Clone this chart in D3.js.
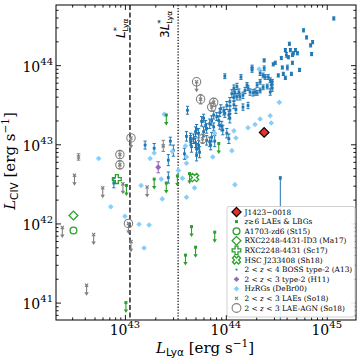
<!DOCTYPE html>
<html>
<head>
<meta charset="utf-8">
<script src="https://cdn.jsdelivr.net/npm/d3@7"></script>
<style>
body { margin: 0; background: #fff; }
text { font-family: "DejaVu Serif", serif; fill: #000; }
</style>
</head>
<body>
<svg id="canvas" width="357" height="359"></svg>
<script>
// all luminosities are log10 [erg s^-1]
let bossLya = [45.07,44.77,44.80,44.86,44.84,44.63,44.59,44.64,44.69,44.67,44.71,44.60,44.62,44.66,44.85,44.55,44.66,44.61,44.56,44.49,44.47,44.38,44.73,44.38,44.37,44.26,44.26,44.52,44.57,44.59,44.65,44.34,44.39,44.42,44.44,44.46,44.45,44.46,44.44,44.31,44.29,44.31,44.27,44.34,44.37,44.41,44.34,
    43.99,44.15,44.08,44.11,44.13,44.09,44.06,44.08,44.11,44.14,44.17,44.19,44.22,44.21,44.24,
    44.04,44.08,44.01,44.10,44.17,44.22,43.95,43.98,43.94,43.99,44.04,44.03,44.04,43.88,43.91,43.93,43.86,43.84,43.81,43.88,43.94,43.97,43.78,43.76,43.80,
    43.62,43.61,43.65,43.68,43.70,43.86,43.89,44.01,44.03,43.59,43.48,43.65,43.66,43.71,43.74,43.71,43.84,43.85,43.81,43.20,43.29,43.45,43.43,43.73,43.43,42.89,
    43.71,43.70,43.73,43.78,43.96]
let bossCiv = [44.59,44.44,44.35,44.29,44.25,44.27,44.19,44.19,44.19,44.15,44.15,44.13,44.10,44.13,44.14,44.09,44.03,43.97,43.97,44.03,44.01,44.06,43.94,43.96,43.87,43.97,43.94,43.87,43.89,43.84,43.89,43.90,43.85,43.85,43.81,43.79,43.75,43.71,43.66,43.75,43.66,43.65,43.65,43.68,43.72,43.73,43.79,
    43.86,43.85,43.71,43.73,43.66,43.65,43.64,43.59,43.60,43.60,43.62,43.68,43.71,43.75,43.66,
    43.54,43.50,43.49,43.44,43.47,43.49,43.45,43.42,43.40,43.39,43.43,43.37,43.33,43.37,43.35,43.30,43.30,43.26,43.20,43.22,43.24,43.18,43.33,43.29,43.24,
    43.43,43.10,43.08,43.07,43.02,43.09,43.04,43.14,43.07,42.88,42.92,43.05,42.97,42.95,42.90,42.86,43.03,42.99,43.05,42.99,42.95,43.04,42.80,42.99,42.58,42.51,
    43.19,43.16,43.14,43.16,43.23]
let bossErr = [.02,.02,.02,.02,.02,.02,.02,.02,.02,.02,.02,.03,.02,.02,.02,.02,.02,.03,.02,.02,.02,.02,.02,.03,.03,.03,.03,.02,.02,.02,.02,.03,.03,.03,.03,.03,.04,.04,.04,.03,.04,.03,.04,.03,.03,.03,.03,
    .03,.03,.04,.04,.04,.04,.05,.05,.04,.04,.04,.04,.03,.03,.04,
    .05,.05,.05,.05,.04,.04,.05,.05,.05,.05,.05,.05,.06,.05,.05,.06,.06,.06,.06,.05,.05,.06,.05,.06,.06,
    .05,.06,.06,.06,.06,.06,.07,.06,.06,.07,.07,.06,.07,.06,.07,.07,.06,.06,.06,.05,.06,.05,.07,.06,.07,.06,
    .06,.06,.06,.06,.06]
// one BOSS object whose lower error runs off the bottom
let bossWideLya = [44.54]
let bossWideCiv = [42.57]

let hzrgLya = [42.74,42.86,43.00,43.14,43.24,43.19,43.16,43.25,43.29,43.37,43.36,43.39,43.47,43.53,43.57,43.61,43.69,43.60,43.61,43.61,43.87,43.89,44.06,44.08,44.10,44.22,44.29,44.34,44.44,44.45,44.53,44.33,44.09]
let hzrgCiv = [42.82,42.21,42.09,41.99,41.98,41.69,42.48,42.82,42.89,42.31,42.56,43.38,42.91,42.67,42.57,42.33,42.45,42.98,42.84,42.76,42.84,43.14,42.92,43.17,43.08,43.21,43.25,43.32,43.36,43.27,43.53,43.95,42.49]

let laeLya = [42.54,42.50,42.38,42.69,42.78,42.62,42.98,43.06,43.22,43.38]
let laeCiv = [42.84,42.61,41.95,41.86,42.45,41.22,42.50,41.77,42.46,42.98]
let laeLimit = [0,1,1,1,1,1,1,1,1,0]
let laeErr = [0.04,0,0,0,0,0,0,0,0,0.07]

let agnLya = [43.06,42.95,42.95,43.035,43.71,43.75,43.88,43.86,43.77]
let agnCiv = [43.08,42.87,42.74,42.00,43.79,43.57,43.53,43.47,43.07]
let agnLimit = [1,0,0,1,1,0,0,0,0]
let agnErr = [0,0.05,0.05,0,0,0.06,0.05,0.05,0.06]

let z6Lya = [43.41,43.93,43.64,43.52,43.29,43.41,43.015,43.66,43.89,43.60,43.70,43.01]
let z6Civ = [43.37,43.01,42.63,42.60,42.56,42.51,42.48,41.96,41.89,41.60,41.70,41.00]

let h11Lya = [43.33]
let h11Civ = [42.71]
let h11Err = [0.07]

let a1703 = [42.49, 41.91]
let ma17 = [42.49, 42.10]
let sc17 = [42.92, 42.56]
let sh18 = [43.69, 42.58]
let j1423 = [44.38, 43.15]

let lyaStar = 43.05

let xTicks = [43, 44, 45]
let yTicks = [41, 42, 43, 44]

let legendLabels = [
    'J1423\u22120018',
    'z\u22736 LAEs & LBGs',
    'A1703-zd6 (St15)',
    'RXC2248-4431-ID3 (Ma17)',
    'RXC2248-4431 (Sc17)',
    'HSC J233408 (Sh18)',
    '2 < z < 4 BOSS type-2 (A13)',
    '2 < z < 3 type-2 (H11)',
    'HzRGs (DeBr00)',
    '2 < z < 3 LAEs (So18)',
    '2 < z < 3 LAE-AGN (So18)'
]

let padLeft = 56, padRight = 356, padTop = 5, padBottom = 320

let blue = '#1f77b4'
let sky = '#87cefa'
let green = '#2ca02c'
let grey = '#808080'
let purple = '#9467bd'
let red = '#e8302a'

let canvas = d3.select('#canvas')

let x = d3.scaleLog().domain([10 ** 42.317, 10 ** 45.29]).range([padLeft, padRight])
let y = d3.scaleLog().domain([10 ** 40.78, 10 ** 44.76]).range([padBottom, padTop])
let X = (v) => x(10 ** v)
let Y = (v) => y(10 ** v)

let clip = canvas.append('clipPath').attr('id', 'plotclip')
clip.append('rect').attr('x', padLeft).attr('y', padTop).attr('width', padRight - padLeft).attr('height', padBottom - padTop)

let plot = canvas.append('g').attr('clip-path', 'url(#plotclip)')

// marker paths
let diamond = (r) => `M0,${-r}L${r},0L0,${r}L${-r},0Z`
let square = (s) => `M${-s / 2},${-s / 2}h${s}v${s}h${-s}Z`
let cross = (r) => `M${-r},${-r}L${r},${r}M${-r},${r}L${r},${-r}`
let plus = (r) => {
    let a = r / 3
    return `M${-a},${-r}L${a},${-r}L${a},${-a}L${r},${-a}L${r},${a}L${a},${a}L${a},${r}L${-a},${r}L${-a},${a}L${-r},${a}L${-r},${-a}L${-a},${-a}Z`
}

let errorBar = (g, px, py1, py2, color, cap) => {
    g.append('line').attr('x1', px).attr('x2', px).attr('y1', py1).attr('y2', py2)
        .attr('stroke', color).attr('stroke-width', 1)
    ;[py1, py2].forEach((yy) => {
        g.append('line').attr('x1', px - cap).attr('x2', px + cap).attr('y1', yy).attr('y2', yy)
            .attr('stroke', color).attr('stroke-width', 1)
    })
}

let arrowDown = (g, px, py, color) => {
    g.append('line').attr('x1', px).attr('x2', px).attr('y1', py).attr('y2', py + 9)
        .attr('stroke', color).attr('stroke-width', 1.1)
    g.append('path').attr('d', `M${px - 2.2},${py + 7}L${px + 2.2},${py + 7}L${px},${py + 10.5}Z`)
        .attr('fill', color)
}

// reference lines
plot.append('line').attr('x1', X(lyaStar)).attr('x2', X(lyaStar)).attr('y1', padTop).attr('y2', padBottom)
    .attr('stroke', '#000').attr('stroke-width', 1.3).attr('stroke-dasharray', '5,2.5')
plot.append('line').attr('x1', X(lyaStar + Math.log10(3))).attr('x2', X(lyaStar + Math.log10(3))).attr('y1', padTop).attr('y2', padBottom)
    .attr('stroke', '#000').attr('stroke-width', 1.2).attr('stroke-dasharray', '1.3,1.6')

// BOSS type-2
let boss = plot.append('g')
bossLya.forEach((l, i) => {
    let c = bossCiv[i], e = bossErr[i]
    errorBar(boss, X(l), Y(c - e), Y(c + e), blue, 1.6)
})
bossWideLya.forEach((l, i) => {
    let c = bossWideCiv[i]
    boss.append('line').attr('x1', X(l)).attr('x2', X(l)).attr('y1', Y(c + 0.02)).attr('y2', padBottom + 5)
        .attr('stroke', blue).attr('stroke-width', 1)
    boss.append('line').attr('x1', X(l) - 1.6).attr('x2', X(l) + 1.6).attr('y1', Y(c + 0.02)).attr('y2', Y(c + 0.02))
        .attr('stroke', blue).attr('stroke-width', 1)
})
boss.selectAll('path.boss')
    .data(bossLya.map((l, i) => [l, bossCiv[i]]).concat(bossWideLya.map((l, i) => [l, bossWideCiv[i]])))
    .enter()
    .append('path')
    .attr('d', square(2.8))
    .attr('transform', (d) => `translate(${X(d[0])},${Y(d[1])})`)
    .attr('fill', blue)

// H11 type-2
let h11 = plot.append('g')
h11Lya.forEach((l, i) => {
    errorBar(h11, X(l), Y(h11Civ[i] - h11Err[i]), Y(h11Civ[i] + h11Err[i]), purple, 1.8)
    h11.append('path').attr('d', diamond(3)).attr('transform', `translate(${X(l)},${Y(h11Civ[i])})`).attr('fill', purple)
})

// HzRGs
plot.append('g').selectAll('path')
    .data(hzrgLya.map((l, i) => [l, hzrgCiv[i]]))
    .enter()
    .append('path')
    .attr('d', diamond(2.8))
    .attr('transform', (d) => `translate(${X(d[0])},${Y(d[1])})`)
    .attr('fill', sky)

// So18 LAEs
let lae = plot.append('g')
laeLya.forEach((l, i) => {
    let px = X(l), py = Y(laeCiv[i])
    if (laeLimit[i]) {
        arrowDown(lae, px, py, grey)
    } else {
        errorBar(lae, px, Y(laeCiv[i] - laeErr[i]), Y(laeCiv[i] + laeErr[i]), grey, 1.8)
    }
    lae.append('path').attr('d', cross(1.6)).attr('transform', `translate(${px},${py})`)
        .attr('stroke', grey).attr('stroke-width', 1.2).attr('fill', 'none')
})

// So18 LAE-AGN
let agn = plot.append('g')
agnLya.forEach((l, i) => {
    let px = X(l), py = Y(agnCiv[i])
    if (agnLimit[i]) {
        arrowDown(agn, px, py, grey)
    } else {
        errorBar(agn, px, Y(agnCiv[i] - agnErr[i]), Y(agnCiv[i] + agnErr[i]), grey, 1.8)
    }
    agn.append('path').attr('d', cross(1.6)).attr('transform', `translate(${px},${py})`)
        .attr('stroke', grey).attr('stroke-width', 1.2).attr('fill', 'none')
    agn.append('circle').attr('cx', px).attr('cy', py).attr('r', 4.2)
        .attr('fill', 'none').attr('stroke', grey).attr('stroke-width', 1.1)
})

// z>~6 LAEs and LBGs (upper limits)
let z6 = plot.append('g')
z6Lya.forEach((l, i) => {
    let px = X(l), py = Y(z6Civ[i])
    arrowDown(z6, px, py, green)
    z6.append('path').attr('d', square(3)).attr('transform', `translate(${px},${py})`).attr('fill', green)
})

// individual z~6-7 objects
let single = plot.append('g')
single.append('circle').attr('cx', X(a1703[0])).attr('cy', Y(a1703[1])).attr('r', 3.4)
    .attr('fill', 'none').attr('stroke', green).attr('stroke-width', 1.3)
single.append('path').attr('d', diamond(4.4)).attr('transform', `translate(${X(ma17[0])},${Y(ma17[1])})`)
    .attr('fill', 'none').attr('stroke', green).attr('stroke-width', 1.3)
single.append('path').attr('d', plus(4.4)).attr('transform', `translate(${X(sc17[0])},${Y(sc17[1])})`)
    .attr('fill', 'none').attr('stroke', green).attr('stroke-width', 1.3)
single.append('path').attr('d', plus(4.4)).attr('transform', `translate(${X(sh18[0])},${Y(sh18[1])}) rotate(45)`)
    .attr('fill', 'none').attr('stroke', green).attr('stroke-width', 1.3)

// J1423-0018
plot.append('path').attr('d', diamond(4.8)).attr('transform', `translate(${X(j1423[0])},${Y(j1423[1])})`)
    .attr('fill', red).attr('stroke', '#000').attr('stroke-width', 1.2)

// L* labels
let starLabel = (xpos, prefix) => {
    let t = canvas.append('text')
        .attr('transform', `translate(${xpos},38) rotate(-90)`)
        .style('font-family', '"DejaVu Sans", sans-serif')
        .style('font-size', '12px')
    t.append('tspan').text(prefix)
    t.append('tspan').style('font-style', 'italic').text('L')
    t.append('tspan').attr('dy', -5).style('font-size', '8.5px').text('*')
    t.append('tspan').attr('dx', -4.3).attr('dy', 8).style('font-size', '7.5px').text('Ly\u03b1')
}
starLabel(X(lyaStar) - 5, '')
starLabel(X(lyaStar + Math.log10(3)) - 9, '3')

// ticks (inside, all four sides)
let minor = (lo, hi) => {
    let out = []
    for (let d = Math.floor(lo); d <= Math.ceil(hi); d++) {
        for (let m = 2; m <= 9; m++) {
            let v = m * 10 ** d
            if (Math.log10(v) > lo && Math.log10(v) < hi) out.push(v)
        }
    }
    return out
}
let xMinor = minor(42.317, 45.29)
let yMinor = minor(40.78, 44.76)
let xMajor = xTicks.map((e) => 10 ** e)
let yMajor = yTicks.map((e) => 10 ** e)

let tickGroup = (axis, tr) => {
    let g = canvas.append('g').attr('transform', tr).call(axis)
    g.select('.domain').remove()
    g.selectAll('text').remove()
    g.selectAll('line').attr('stroke', '#000').attr('stroke-width', 0.9)
}
tickGroup(d3.axisBottom(x).tickValues(xMajor).tickSize(-5), `translate(0,${padBottom})`)
tickGroup(d3.axisBottom(x).tickValues(xMinor).tickSize(-2.6), `translate(0,${padBottom})`)
tickGroup(d3.axisTop(x).tickValues(xMajor).tickSize(-5), `translate(0,${padTop})`)
tickGroup(d3.axisTop(x).tickValues(xMinor).tickSize(-2.6), `translate(0,${padTop})`)
tickGroup(d3.axisLeft(y).tickValues(yMajor).tickSize(-5), `translate(${padLeft},0)`)
tickGroup(d3.axisLeft(y).tickValues(yMinor).tickSize(-2.6), `translate(${padLeft},0)`)
tickGroup(d3.axisRight(y).tickValues(yMajor).tickSize(-5), `translate(${padRight},0)`)
tickGroup(d3.axisRight(y).tickValues(yMinor).tickSize(-2.6), `translate(${padRight},0)`)

// frame
canvas.append('rect').attr('x', padLeft).attr('y', padTop).attr('width', padRight - padLeft).attr('height', padBottom - padTop)
    .attr('fill', 'none').attr('stroke', '#000').attr('stroke-width', 1)

// tick labels
xTicks.forEach((e) => {
    let t = canvas.append('text').attr('x', X(e)).attr('y', 335).attr('text-anchor', 'middle').style('font-size', '14px')
    t.append('tspan').text('10')
    t.append('tspan').attr('dy', -7).style('font-size', '10px').text(e)
})
yTicks.forEach((e) => {
    let t = canvas.append('text').attr('x', 53).attr('y', Y(e) + 6.5).attr('text-anchor', 'end').style('font-size', '14px')
    t.append('tspan').text('10')
    t.append('tspan').attr('dy', -7).style('font-size', '10px').text(e)
})

// axis labels
let axisLabel = (t, sub) => {
    t.append('tspan').style('font-style', 'italic').text('L')
    t.append('tspan').attr('dy', 3).style('font-size', '10.5px').style('font-family', '"DejaVu Sans", sans-serif').text(sub)
    t.append('tspan').attr('dy', -3).text(' [erg s')
    t.append('tspan').attr('dy', -6).style('font-size', '10.5px').text('\u22121')
    t.append('tspan').attr('dy', 6).text(']')
}
axisLabel(canvas.append('text').attr('x', 205).attr('y', 353).attr('text-anchor', 'middle').style('font-size', '15px'), 'Ly\u03b1')
axisLabel(canvas.append('text').attr('transform', 'translate(15,161) rotate(-90)').attr('text-anchor', 'middle').style('font-size', '15px'), 'CIV')

// legend
let legend = canvas.append('g')
legend.append('rect').attr('x', 227).attr('y', 206.5).attr('width', 128).attr('height', 110.5).attr('rx', 2)
    .attr('fill', '#fff').attr('fill-opacity', 0.9).attr('stroke', '#cccccc').attr('stroke-width', 0.9)

let legendMarkers = [
    (g) => g.append('path').attr('d', diamond(4.6)).attr('fill', red).attr('stroke', '#000').attr('stroke-width', 1.2),
    (g) => g.append('path').attr('d', square(3)).attr('fill', green),
    (g) => g.append('circle').attr('r', 3.4).attr('fill', 'none').attr('stroke', green).attr('stroke-width', 1.3),
    (g) => g.append('path').attr('d', diamond(4.4)).attr('fill', 'none').attr('stroke', green).attr('stroke-width', 1.3),
    (g) => g.append('path').attr('d', plus(4.3)).attr('fill', 'none').attr('stroke', green).attr('stroke-width', 1.3),
    (g) => g.append('path').attr('d', plus(4.3)).attr('transform', 'rotate(45)').attr('fill', 'none').attr('stroke', green).attr('stroke-width', 1.3),
    (g) => g.append('path').attr('d', square(1.8)).attr('fill', blue),
    (g) => g.append('path').attr('d', diamond(2.8)).attr('fill', purple),
    (g) => g.append('path').attr('d', diamond(2.8)).attr('fill', sky),
    (g) => g.append('path').attr('d', cross(1.5)).attr('stroke', grey).attr('stroke-width', 1.1),
    (g) => g.append('circle').attr('r', 4.4).attr('fill', 'none').attr('stroke', grey).attr('stroke-width', 1.1)
]

legendLabels.forEach((label, i) => {
    let ly = 212 + i * 9.6
    let g = legend.append('g').attr('transform', `translate(236.5,${ly})`)
    legendMarkers[i](g)
    let t = legend.append('text').attr('x', 244.5).attr('y', ly + 2.5).style('font-size', '7.4px')
    let parts = label.split(/(z)(?=[\u2273 ])/)
    parts.forEach((p) => {
        if (p === 'z') t.append('tspan').style('font-style', 'italic').text('z')
        else t.append('tspan').text(p)
    })
})
</script>
</body>
</html>
